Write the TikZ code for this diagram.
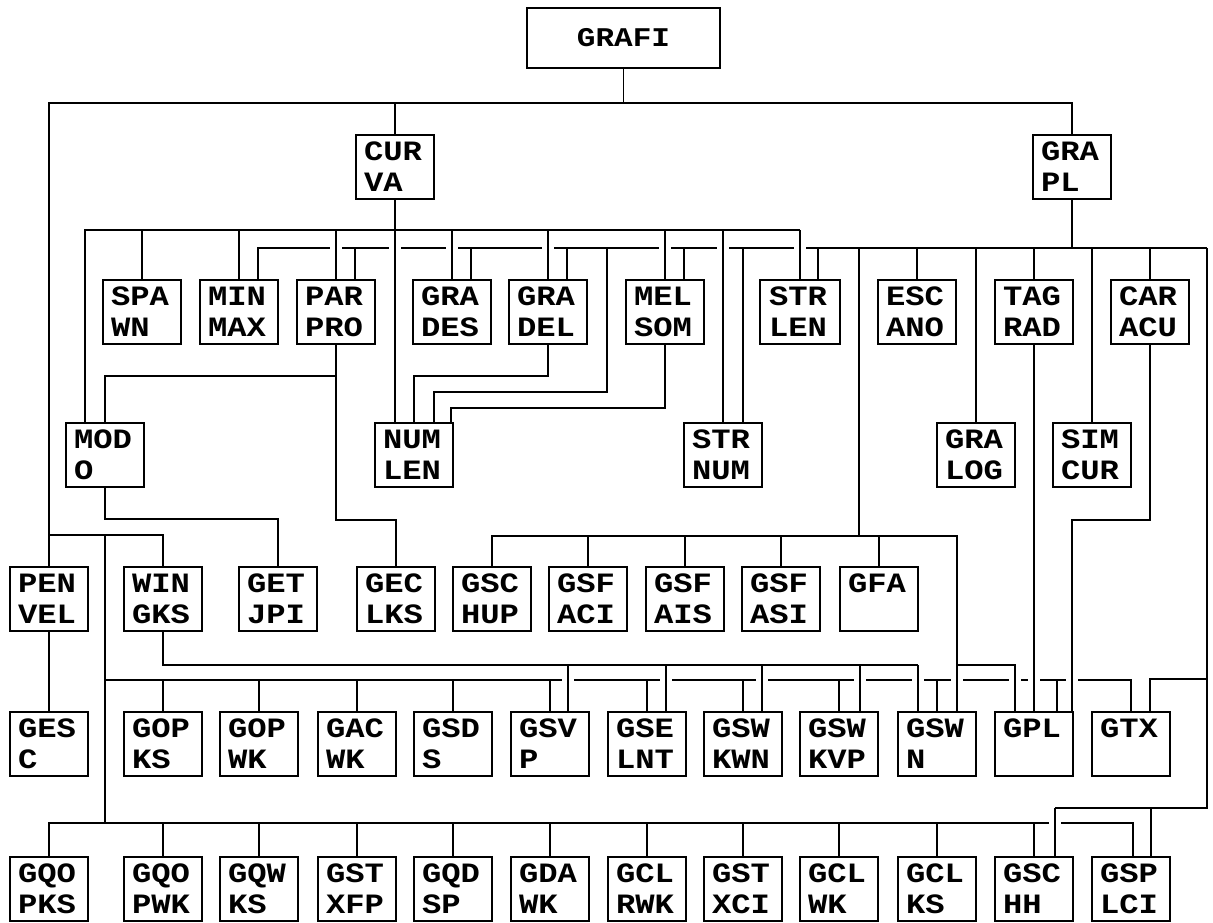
\documentclass[tikz,border=0pt]{standalone}
\usepackage{fontspec}
\newfontfamily\boxfont{Liberation Mono}[FakeStretch=1.15]
\usetikzlibrary{backgrounds}
\begin{document}
\begin{tikzpicture}[x=1pt,y=-1pt,
  box/.style={draw, line width=1.8pt, outer sep=0pt, anchor=north west,
    minimum width=78pt, minimum height=64pt, text width=62pt,
    inner xsep=8pt, inner ysep=0pt, align=left,
    font=\boxfont\bfseries\fontsize{28}{31}\selectfont},
  conn/.style={line width=1.8pt},
  cross/.style={conn, preaction={draw=white, line width=12pt, shorten <=6pt, shorten >=6pt}}]
\useasboundingbox (0,0) rectangle (1213,922);
% top
\node[draw, line width=1.8pt, outer sep=0pt, anchor=north west, minimum width=193pt,
  minimum height=60pt, font=\boxfont\bfseries\fontsize{27}{30}\selectfont] (grafi) at (527,8) {GRAFI};
\node[box] (curva) at (356,135) {CUR\\VA};
\node[box] (grapl) at (1033,135) {GRA\\PL};
% row 2
\node[box] (spawn)  at (103,280) {SPA\\WN};
\node[box] (minmax) at (200,280) {MIN\\MAX};
\node[box] (parpro) at (297,280) {PAR\\PRO};
\node[box] (grades) at (413,280) {GRA\\DES};
\node[box] (gradel) at (509,280) {GRA\\DEL};
\node[box] (melsom) at (626,280) {MEL\\SOM};
\node[box, minimum width=80pt] (strlen) at (760,280) {STR\\LEN};
\node[box] (escano) at (878,280) {ESC\\ANO};
\node[box] (tagrad) at (995,280) {TAG\\RAD};
\node[box] (caracu) at (1111,280) {CAR\\ACU};
% row 2.5
\node[box] (modo)   at (66,423)   {MOD\\O};
\node[box] (numlen) at (375,423)  {NUM\\LEN};
\node[box] (strnum) at (684,423)  {STR\\NUM};
\node[box] (gralog) at (937,423)  {GRA\\LOG};
\node[box] (simcur) at (1053,423) {SIM\\CUR};
% row 3
\node[box] (penvel) at (10,567)  {PEN\\VEL};
\node[box] (wingks) at (124,567) {WIN\\GKS};
\node[box] (getjpi) at (239,567) {GET\\JPI};
\node[box] (geclks) at (357,567) {GEC\\LKS};
\node[box] (gschup) at (453,567) {GSC\\HUP};
\node[box] (gsfaci) at (549,567) {GSF\\ACI};
\node[box] (gsfais) at (646,567) {GSF\\AIS};
\node[box] (gsfasi) at (742,567) {GSF\\ASI};
\node[box] (gfa)    at (840,567) {GFA\\\phantom{X}};
% row 4
\node[box] (gesc)   at (10,712)   {GES\\C};
\node[box] (gopks)  at (124,712)  {GOP\\KS};
\node[box] (gopwk)  at (220,712)  {GOP\\WK};
\node[box] (gacwk)  at (318,712)  {GAC\\WK};
\node[box] (gsds)   at (414,712)  {GSD\\S};
\node[box] (gsvp)   at (511,712)  {GSV\\P};
\node[box] (gselnt) at (608,712)  {GSE\\LNT};
\node[box] (gswkwn) at (704,712)  {GSW\\KWN};
\node[box] (gswkvp) at (800,712)  {GSW\\KVP};
\node[box] (gswn)   at (898,712)  {GSW\\N};
\node[box] (gpl)    at (995,712)  {GPL\\\phantom{X}};
\node[box] (gtx)    at (1092,712) {GTX\\\phantom{X}};
% row 5
\node[box] (gqopks) at (10,857)   {GQO\\PKS};
\node[box] (gqopwk) at (124,857)  {GQO\\PWK};
\node[box] (gqwks)  at (220,857)  {GQW\\KS};
\node[box] (gstxfp) at (318,857)  {GST\\XFP};
\node[box] (gqdsp)  at (414,857)  {GQD\\SP};
\node[box] (gdawk)  at (511,857)  {GDA\\WK};
\node[box] (gclrwk) at (608,857)  {GCL\\RWK};
\node[box] (gstxci) at (704,857)  {GST\\XCI};
\node[box] (gclwk)  at (800,857)  {GCL\\WK};
\node[box] (gclks)  at (898,857)  {GCL\\KS};
\node[box] (gschh)  at (995,857)  {GSC\\HH};
\node[box] (gsplci) at (1092,857) {GSP\\LCI};
% bus levels and junctions
\coordinate (cvbus) at (0,230);
\coordinate (gpbus) at (0,248);
\coordinate (rgt) at (1207,248);
\coordinate (n607) at (607,248);
\coordinate (n859) at (859,248);
\coordinate (spine) at (105,535);
\coordinate (gj) at (957,665);
\coordinate (wbe) at (918,665);
\begin{pgfonlayer}{background}
\fill[white] (0,0) rectangle (1213,922);
% GRAFI
\draw[conn] (grafi.south) -- ++(0,35) -| (curva.north);
\draw[conn] (grafi.south) ++(0,35) -| (grapl.north);
\draw[conn] (grafi.south) ++(0,35) -| (penvel.north);
\draw[conn] (penvel.north) ++(0,-32) -| (wingks.north);
\draw[conn] (spine) -- ++(0,145) -| (gtx.north);
\draw[conn] (spine) -- ++(0,288);
\draw[conn] (penvel.south) -- (gesc.north);
% GOP bus drops
\foreach \n in {gopks,gopwk,gacwk,gsds,gsvp,gselnt,gswkwn,gswkvp,gswn}
  \draw[conn] (\n.north) -- ++(0,-32);
\draw[conn] ([xshift=23pt]gpl.north) -- ++(0,-32);
% bottom bus
\draw[conn] (gqopks.north) -- ++(0,-34) -| ([xshift=2pt]gsplci.north);
\foreach \n in {gqopwk,gqwks,gstxfp,gqdsp,gdawk,gclrwk,gstxci,gclwk,gclks,gschh}
  \draw[conn] (\n.north) -- ++(0,-34);
% CURVA bus
\draw[conn] (curva.south) -- (curva.south |- cvbus);
\draw[conn] ([xshift=-20pt]modo.north) |- (strlen.north |- cvbus);
\foreach \n in {spawn,minmax}
  \draw[conn] (\n.north) -- ++(0,-50);
% GRA PL bus
\draw[conn] (grapl.south) -- (grapl.south |- gpbus);
\draw[conn] ([xshift=19pt]minmax.north) |- (rgt);
\foreach \n in {parpro,grades,gradel,melsom}
  \draw[conn] ([xshift=19pt]\n.north) -- ++(0,-32);
\draw[conn] ([xshift=18pt]strlen.north) -- ++(0,-32);
\foreach \n in {escano,tagrad,caracu}
  \draw[conn] (\n.north) -- ++(0,-32);
\foreach \n in {gralog,simcur}
  \draw[conn] (\n.north) -- ++(0,-175);
\draw[conn] ([xshift=20pt]strnum.north) -- ++(0,-175);
\draw[conn] (n607) -- ++(0,144) -| ([xshift=20pt]numlen.north);
% second level routes
\draw[conn] (gradel.south) -- ++(0,32) -| (numlen.north);
\draw[conn] (melsom.south) -- ++(0,64) -| ([xshift=37pt]numlen.north);
\draw[conn] (parpro.south) -- ++(0,32) -| (modo.north);
\draw[conn] (parpro.south) -- ++(0,176) -| (geclks.north);
\draw[conn] (modo.south) -- ++(0,32) -| (getjpi.north);
% GSC bus
\draw[conn] (n859) -- ++(0,288) -| (gschup.north);
\draw[conn] (n859) ++(0,288) -| (gj);
\foreach \n in {gsfaci,gsfais,gsfasi,gfa}
  \draw[conn] (\n.north) -- ++(0,-31);
% WIN GKS bus
\draw[conn] (wingks.south) |- (wbe);
% right line
\draw[conn] ([xshift=19pt]gtx.north) -- ++(0,-33) -| (rgt);
\draw[conn] ([xshift=20pt]gsplci.north) -- ++(0,-49) -| (rgt);
\draw[conn] ([xshift=21pt]gschh.north) ++(0,-49) -- ++(96,0);
% crossings
\foreach \n in {parpro,grades,gradel,melsom,strlen,strnum}
  \draw[cross] (\n.north |- cvbus) -- (\n.north);
\draw[cross] (curva.south |- cvbus) -- ([xshift=-19pt]numlen.north);
\draw[cross] (gj) -- ([xshift=20pt]gswn.north);
\draw[cross] (gj) -| ([xshift=-19pt]gpl.north);
\draw[cross] ([xshift=18pt]gsvp.north) -- ++(0,-47);
\draw[cross] ([xshift=19pt]gselnt.north) -- ++(0,-47);
\draw[cross] ([xshift=19pt]gswkwn.north) -- ++(0,-47);
\draw[cross] ([xshift=21pt]gswkvp.north) -- ++(0,-47);
\draw[cross] ([xshift=-19pt]gswn.north) -- ++(0,-47);
\draw[cross] (tagrad.south) -- (gpl.north);
\draw[cross] (caracu.south) -- ++(0,176) -| ([xshift=38pt]gpl.north);
\draw[cross] ([xshift=21pt]gschh.north) -- ++(0,-49);
\end{pgfonlayer}
\end{tikzpicture}
\end{document}
